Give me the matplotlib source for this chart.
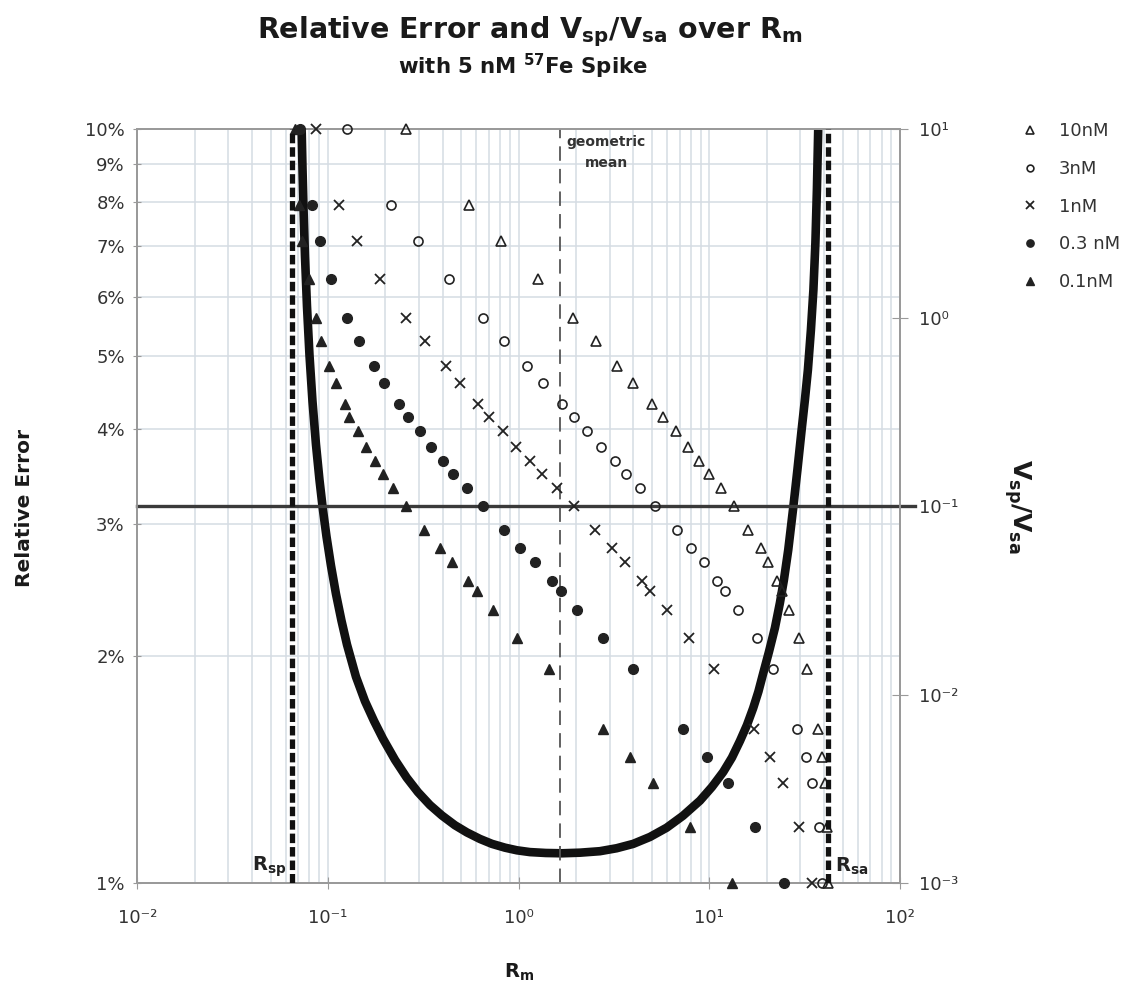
import matplotlib
matplotlib.use("Agg")
import matplotlib.pyplot as plt
from matplotlib.ticker import FixedLocator, NullLocator, LogLocator, FixedFormatter

# ---------------- data ----------------
# Vsp/Vsa values shared by all sample-concentration series (right axis)
v_ratio = [10, 3.95, 2.55, 1.6, 1.0, 0.75, 0.555, 0.45, 0.35, 0.296, 0.25, 0.207,
           0.174, 0.148, 0.125, 0.1, 0.075, 0.06, 0.0505, 0.04, 0.0355, 0.0283,
           0.02, 0.0137, 0.0066, 0.0047, 0.0034, 0.002, 0.001]

rm_10nM = [0.257, 0.548, 0.807, 1.26, 1.93, 2.53, 3.26, 3.96, 4.98, 5.69, 6.66, 7.70,
           8.85, 9.98, 11.5, 13.5, 16.0, 18.6, 20.4, 22.7, 24.0, 26.3, 29.5, 32.4,
           37.2, 38.8, 40.4, 41.2, 42.0]
rm_3nM = [0.126, 0.214, 0.295, 0.432, 0.652, 0.838, 1.10, 1.34, 1.68, 1.95, 2.29, 2.69,
          3.20, 3.65, 4.33, 5.19, 6.74, 8.01, 9.37, 11.0, 12.1, 14.1, 17.7, 21.5,
          29.0, 32.0, 34.7, 37.6, 38.8]
rm_1nM = [0.0862, 0.1146, 0.1414, 0.1874, 0.2566, 0.3228, 0.414, 0.492, 0.609, 0.701,
          0.830, 0.964, 1.15, 1.32, 1.58, 1.95, 2.51, 3.07, 3.61, 4.42, 4.88, 5.97,
          7.82, 10.6, 17.2, 20.9, 24.4, 29.5, 34.7]
rm_03nM = [0.0713, 0.0821, 0.0908, 0.1037, 0.126, 0.145, 0.174, 0.197, 0.237, 0.262,
           0.303, 0.347, 0.399, 0.454, 0.533, 0.647, 0.840, 1.02, 1.22, 1.49, 1.66,
           2.03, 2.76, 3.96, 7.24, 9.75, 12.5, 17.3, 24.7]
rm_01nM = [0.0675, 0.0705, 0.0728, 0.0794, 0.0865, 0.0915, 0.101, 0.110, 0.123, 0.129,
           0.143, 0.158, 0.176, 0.195, 0.220, 0.257, 0.320, 0.386, 0.449, 0.545, 0.603,
           0.736, 0.979, 1.44, 2.76, 3.84, 5.08, 7.91, 13.2]

series_labels = ["10nM", "3nM", "1nM", "0.3 nM", "0.1nM"]

# Relative error curve (left axis, %)
curve_rm = [0.07278, 0.07350, 0.07440, 0.07575, 0.07760, 0.07998, 0.08293, 0.08651,
            0.09025, 0.09380, 0.09820, 0.1037, 0.1101, 0.1177, 0.1258, 0.1402, 0.1563,
            0.1743, 0.1943, 0.2246, 0.2586, 0.2964, 0.3426, 0.3961, 0.4634, 0.5357,
            0.6268, 0.7244, 0.8475, 0.9797, 1.146, 1.390, 1.687,
            2.096, 2.668, 3.265, 3.990, 4.881, 5.971, 7.271, 8.927, 10.32, 11.83,
            13.14, 14.47, 15.75, 16.99, 18.09, 19.17, 20.54, 22.08, 23.45, 24.61,
            25.93, 27.54, 28.97, 30.48, 31.71, 32.88, 34.10, 35.14, 36.00, 36.66, 37.24]
curve_err = [9.98, 8.893, 7.871, 6.794, 5.828, 5.020, 4.358, 3.819, 3.427, 3.148,
             2.885, 2.638, 2.421, 2.230, 2.073, 1.879, 1.744, 1.642, 1.555, 1.458,
             1.381, 1.321, 1.270, 1.230, 1.194, 1.168, 1.145, 1.128, 1.115, 1.106,
             1.100, 1.097, 1.096,
             1.098, 1.103, 1.113, 1.128, 1.152, 1.185, 1.229, 1.287, 1.342, 1.405,
             1.468, 1.544, 1.621, 1.708, 1.796, 1.899, 2.027, 2.181, 2.354, 2.525,
             2.767, 3.148, 3.534, 3.992, 4.375, 4.795, 5.418, 6.122, 7.068, 8.308, 9.98]

r_sp = 0.065
r_sa = 41.7
geo_mean = 1.65
v_ratio_line = 0.1

pct_ticks = [1, 2, 3, 4, 5, 6, 7, 8, 9, 10]
pct_labels = ["1%", "2%", "3%", "4%", "5%", "6%", "7%", "8%", "9%", "10%"]
x_ticks = [1e-2, 1e-1, 1e0, 1e1, 1e2]
x_labels = ["10\u207b\u00b2", "10\u207b\u00b9", "10\u2070", "10\u00b9", "10\u00b2"]
r_ticks = [1e-3, 1e-2, 1e-1, 1e0, 1e1]
r_labels = ["10\u207b\u00b3", "10\u207b\u00b2", "10\u207b\u00b9", "10\u2070", "10\u00b9"]

# ---------------- style ----------------
plt.rcParams["font.family"] = ["DejaVu Sans"]
plt.rcParams["mathtext.fontset"] = "custom"
plt.rcParams["mathtext.rm"] = "DejaVu Sans:bold"
plt.rcParams["mathtext.bf"] = "DejaVu Sans:bold"
plt.rcParams["mathtext.sf"] = "DejaVu Sans:bold"
plt.rcParams["mathtext.it"] = "DejaVu Sans:bold"

TXT = "#333333"
DARK = "#1a1a1a"
GRID = "#d5dce3"
SPINE = "#9a9a9a"

fig = plt.figure(figsize=(11.28, 9.92), dpi=100)
ax = fig.add_axes([137.3 / 1128, 1 - 883.3 / 992, (900 - 137.3) / 1128, (883.3 - 129.3) / 992])

# left axis: relative error
ax.set_xscale("log")
ax.set_yscale("log")
ax.set_xlim(1e-2, 1e2)
ax.set_ylim(1, 10)
ax.xaxis.set_major_locator(FixedLocator(x_ticks))
ax.xaxis.set_major_formatter(FixedFormatter(x_labels))
ax.xaxis.set_minor_locator(LogLocator(base=10, subs=[2, 3, 4, 5, 6, 7, 8, 9]))
ax.yaxis.set_major_locator(FixedLocator(pct_ticks))
ax.yaxis.set_major_formatter(FixedFormatter(pct_labels))
ax.yaxis.set_minor_locator(NullLocator())
ax.grid(True, which="both", axis="x", color=GRID, lw=1.1)
ax.grid(True, which="major", axis="y", color=GRID, lw=1.1)
ax.set_axisbelow(True)
ax.tick_params(axis="x", which="major", direction="inout", length=9, color=SPINE,
               labelsize=13, labelcolor=TXT, pad=14)
ax.tick_params(axis="x", which="minor", length=0)
ax.tick_params(axis="y", which="major", direction="inout", length=6, color=SPINE,
               labelsize=13, labelcolor=TXT, pad=6)
for s in ax.spines.values():
    s.set_color(SPINE)
    s.set_linewidth(1.3)

ax.plot(curve_rm, curve_err, color="#111111", lw=6.2, solid_capstyle="butt",
        solid_joinstyle="round", zorder=3)

# right axis: Vsp/Vsa
ax2 = ax.twinx()
ax2.set_yscale("log")
ax2.set_ylim(1e-3, 10)
ax2.yaxis.set_major_locator(FixedLocator(r_ticks))
ax2.yaxis.set_major_formatter(FixedFormatter(r_labels))
ax2.yaxis.set_minor_locator(NullLocator())
ax2.tick_params(axis="y", which="major", direction="inout", length=12, color=SPINE,
                labelsize=13, labelcolor=TXT, pad=8)
for s in ax2.spines.values():
    s.set_color(SPINE)
    s.set_linewidth(1.3)

MK = "#222222"
styles = [
    dict(marker="^", mfc="none", mec=MK, ms=7.5, mew=1.2),
    dict(marker="o", mfc="none", mec=MK, ms=6.5, mew=1.2),
    dict(marker="x", mfc="none", mec=MK, ms=7.5, mew=1.3),
    dict(marker="o", mfc=MK, mec=MK, ms=7, mew=1.0),
    dict(marker="^", mfc=MK, mec=MK, ms=7.5, mew=1.0),
]
handles = []
for xs, lab, st in zip([rm_10nM, rm_3nM, rm_1nM, rm_03nM, rm_01nM], series_labels, styles):
    h, = ax2.plot(xs, v_ratio, ls="none", label=lab, zorder=4, clip_on=False, **st)
    handles.append(h)

ax2.axhline(v_ratio_line, xmin=0, xmax=1.02, color="#3a3a3a", lw=2.4, zorder=2, clip_on=False)

# vertical reference lines
ax2.axvline(r_sp, color="#111111", lw=3.8, dashes=(1.8, 0.75), zorder=5)
ax2.axvline(r_sa, color="#111111", lw=3.8, dashes=(1.8, 0.75), zorder=5)
ax2.axvline(geo_mean, color="#555555", lw=1.3, dashes=(8, 4.5), zorder=2)

# annotations
trans = ax.get_xaxis_transform()
ax.text(geo_mean * 1.75, 0.983, "geometric", transform=trans, ha="center", va="center",
        fontsize=10, fontweight="bold", color=TXT)
ax.text(geo_mean * 1.75, 0.955, "mean", transform=trans, ha="center", va="center",
        fontsize=10, fontweight="bold", color=TXT)
ax.text(r_sp * 0.93, 0.022, r"R$_{\mathsf{sp}}$", transform=trans, ha="right", va="center",
        fontsize=14, fontweight="bold", color="#222222")
ax.text(r_sa * 1.09, 0.022, r"R$_{\mathsf{sa}}$", transform=trans, ha="left", va="center",
        fontsize=14, fontweight="bold", color="#222222")

# titles and labels
fig.text(530 / 1128, 1 - 32 / 992, r"Relative Error and V$_{\mathrm{sp}}$/V$_{\mathrm{sa}}$ over R$_{\mathrm{m}}$",
         ha="center", va="center", fontsize=20.5, fontweight="bold", color=DARK)
fig.text(523 / 1128, 1 - 66 / 992, r"with 5 nM $^{\mathrm{57}}$Fe Spike", ha="center", va="center",
         fontsize=15.3, fontweight="bold", color=DARK)
fig.text(25 / 1128, 1 - 508 / 992, "Relative Error", rotation=90, ha="center", va="center",
         fontsize=14.5, fontweight="bold", color=DARK)
fig.text(519 / 1128, 1 - 972 / 992, r"R$_{\mathsf{m}}$", ha="center", va="center",
         fontsize=14, fontweight="bold", color=DARK)
fig.text(1017 / 1128, 1 - 506 / 992, r"V$_{\mathsf{sp}}$/V$_{\mathsf{sa}}$", rotation=270,
         ha="center", va="center", fontsize=18, fontweight="bold", color=DARK)

fig.legend(handles=handles, labels=series_labels, loc="upper left",
           bbox_to_anchor=(1003 / 1128, 1 - 106 / 992), frameon=False, fontsize=13,
           labelspacing=1.09, handlelength=1.2, handletextpad=1.0, markerscale=0.75,
           labelcolor=TXT)

fig.savefig("out.png", dpi=100, facecolor="white")
